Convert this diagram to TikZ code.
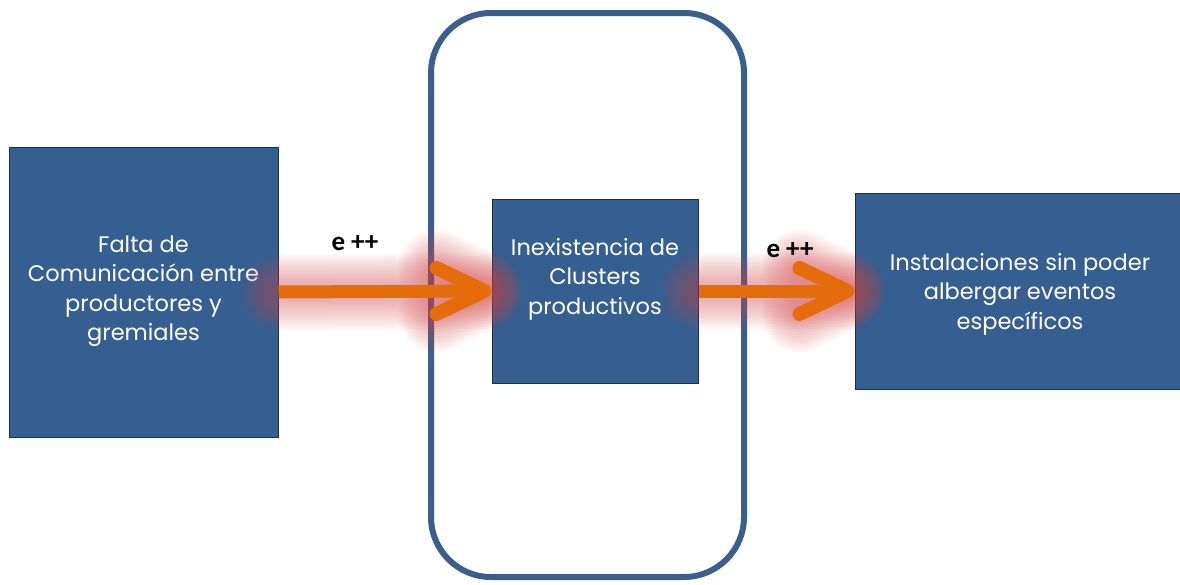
\documentclass[tikz,border=0pt]{standalone}
\usepackage{fontspec}
\setmainfont{Poppins}
\newfontfamily\lblfont{Carlito}
\usetikzlibrary{calc}
\definecolor{boxblue}{RGB}{54,95,145}
\definecolor{boxedge}{RGB}{28,45,72}
\definecolor{frameblue}{RGB}{58,95,140}
\definecolor{arroworange}{RGB}{228,108,10}
\definecolor{glowred}{RGB}{210,70,70}
\tikzset{
  bluebox/.style={draw=boxedge, line width=1pt, fill=boxblue, inner sep=0pt},
  boxtext/.style={text=white, align=center, font=\fontsize{22.5}{29.5}\selectfont, inner sep=0pt},
  lbl/.style={font=\lblfont\fontsize{27}{30}\selectfont\bfseries, inner sep=0pt},
  shaft/.style={draw=arroworange, line width=13pt},
  chevron/.style={draw=arroworange, line width=14pt, line cap=round, line join=round},
  glow/.style={draw=glowred, line width=#1, line cap=round, line join=round, opacity=0.045},
  frame/.style={draw=frameblue, line width=6pt, rounded corners=60pt}
}
\begin{document}
\begin{tikzpicture}[x=1pt,y=-1pt]
\useasboundingbox (0,0) rectangle (1180,584);
% frame
\draw[frame] (431,13) rectangle (744,577);
% boxes
\node[bluebox, minimum width=269pt, minimum height=290pt] (left) at (143.5,292) {};
\node[bluebox, minimum width=206pt, minimum height=184pt] (mid) at (595,291) {};
\node[bluebox, minimum width=330pt, minimum height=196pt] (right) at (1020,291) {};
% texts
\node[boxtext] (lefttxt) at (143.5,291) {Falta de\\Comunicación entre\\productores y\\gremiales};
\node[boxtext] (midtxt) at (595,279) {Inexistencia de\\Clusters\\productivos};
\node[boxtext] (righttxt) at (1020,294) {Instalaciones sin poder\\albergar eventos\\específicos};
% tips
\coordinate (tip1) at ($(mid.west)+(-7,0)$);
\coordinate (tip2) at ($(right.west)+(-7,0)$);
% glow
\foreach \w in {76,71,66,61,56,51,46,41,36,31,26,21}{
  \draw[glow=\w pt] (left.east) -- (tip1);
  \draw[glow=\w pt] ($(tip1)+(-48,-23)$) -- (tip1) -- ($(tip1)+(-48,23)$);
  \draw[glow=\w pt] (mid.east) -- (tip2);
  \draw[glow=\w pt] ($(tip2)+(-48,-23)$) -- (tip2) -- ($(tip2)+(-48,23)$);
}
% arrows
\draw[shaft] (left.east) -- (tip1);
\draw[chevron] ($(tip1)+(-48,-23)$) -- (tip1) -- ($(tip1)+(-48,23)$);
\draw[shaft] (mid.east) -- (tip2);
\draw[chevron] ($(tip2)+(-48,-23)$) -- (tip2) -- ($(tip2)+(-48,23)$);
% labels
\node[lbl] (lbl1) at (355,243) {e ++};
\node[lbl] (lbl2) at (790,250) {e ++};
\end{tikzpicture}
\end{document}
